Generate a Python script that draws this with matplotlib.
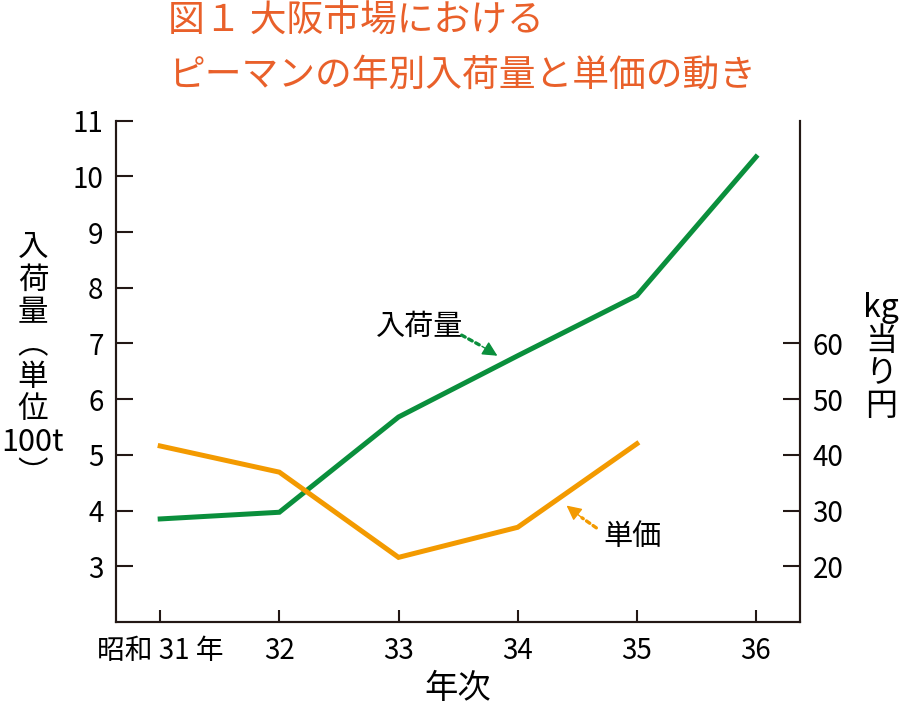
import matplotlib
matplotlib.use("Agg")
from matplotlib import pyplot as plt

plt.rcParams['font.family'] = ['Noto Sans CJK JP', 'DejaVu Sans']

# data
years = [31, 32, 33, 34, 35, 36]
year_labels = ['昭和 31 年', '32', '33', '34', '35', '36']
arrivals = [3.85, 3.97, 5.68, 6.78, 7.86, 10.35]   # 100t
price_years = [31, 32, 33, 34, 35]
price = [41.6, 36.9, 21.6, 27.0, 42.0]             # 円 / kg

green = '#0a8f3c'
orange = '#f39a00'
title_col = '#e9602a'
ink = '#231815'

fig = plt.figure(figsize=(9, 7.08), dpi=100)
ax = fig.add_axes([0.129, 0.1215, 0.760, 0.708])
ax2 = ax.twinx()

ax.plot(years, arrivals, color=green, lw=3.6, solid_joinstyle='miter')
ax2.plot(price_years, price, color=orange, lw=3.6, solid_joinstyle='miter')

ax.set_xlim(30.63, 36.37)
ax.set_ylim(2, 11)
ax2.set_ylim(10, 100)
ax.set_yticks(range(3, 12))
ax2.set_yticks([20, 30, 40, 50, 60])
ax.set_xticks(years)
ax.set_xticklabels(year_labels)

for a in (ax, ax2):
    a.spines['top'].set_visible(False)
    for s in a.spines.values():
        s.set_color(ink)
        s.set_linewidth(1.5)
    a.tick_params(direction='in', color=ink, width=1.5, labelsize=20, labelcolor='black')
ax.tick_params(axis='y', length=12, pad=9)
ax.tick_params(axis='x', length=9, pad=10)
ax2.tick_params(axis='y', length=12, pad=9)

ax.set_xlabel('年次', fontsize=24, labelpad=4)


def dotted_arrow(start, tip, mid, col):
    # dotted shaft, solid head
    ax.annotate('', xy=mid, xytext=start,
                arrowprops=dict(arrowstyle='-', color=col, lw=2.4,
                                ls=(0, (1.2, 1.2)), shrinkA=0, shrinkB=0))
    ax.annotate('', xy=tip, xytext=mid,
                arrowprops=dict(arrowstyle='-|>,head_length=0.9,head_width=0.45',
                                color=col, lw=1, shrinkA=0, shrinkB=0))


ax.text(33.18, 7.3, '入荷量', fontsize=21, ha='center', va='center')
dotted_arrow((33.53, 7.15), (33.83, 6.78), (33.70, 6.95), green)
ax.text(34.96, 3.52, '単価', fontsize=21, ha='center', va='center')
dotted_arrow((34.66, 3.69), (34.41, 4.09), (34.54, 3.87), orange)

# axis labels written vertically
fig.text(33 / 900, 1 - 361 / 708, '入\n荷\n量\n︵\n単\n位\n100t\n︶', fontsize=22,
         ha='center', va='center', multialignment='center', linespacing=1.06)
fig.text(881 / 900, 1 - 357 / 708, 'kg\n当\nり\n円', fontsize=23,
         ha='center', va='center', multialignment='center', linespacing=1.02)

# title
fig.text(168 / 900, 1 - 20 / 708, '図１ 大阪市場における', fontsize=26.5,
         color=title_col, ha='left', va='center')
fig.text(168 / 900, 1 - 75 / 708, 'ピーマンの年別入荷量と単価の動き', fontsize=26.5,
         color=title_col, ha='left', va='center')

fig.savefig('out.png', dpi=100)
